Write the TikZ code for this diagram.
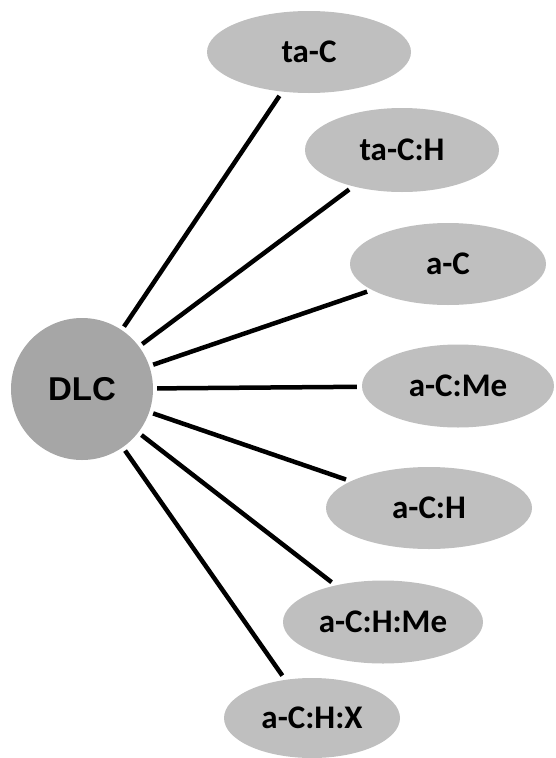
\documentclass[tikz,border=0pt]{standalone}
\usepackage{fontspec}
\setmainfont{Liberation Sans}
\newfontfamily\leaffont{Carlito}
\usetikzlibrary{shapes.geometric}
\definecolor{hubgray}{HTML}{A6A6A6}
\definecolor{leafgray}{HTML}{BFBFBF}
\begin{document}
\begin{tikzpicture}[x=1pt,y=-1pt,
  hub/.style={circle, fill=hubgray, inner sep=0pt, minimum size=142pt,
    font=\fontsize{33}{40}\selectfont\bfseries},
  leaf/.style={ellipse, fill=leafgray, inner sep=0pt,
    font=\leaffont\fontsize{33}{40}\selectfont\bfseries},
  link/.style={line width=4.5pt, shorten <=4pt, shorten >=5pt}]
\useasboundingbox (0,0) rectangle (555,758);
\node[hub] (dlc) at (82,389) {DLC};
\node[leaf, minimum width=204pt, minimum height=82pt] (tac) at (309,52) {ta-C};
\node[leaf, minimum width=194pt, minimum height=84pt] (tach) at (402,150) {ta-C:H};
\node[leaf, minimum width=196pt, minimum height=82pt] (ac) at (448,264) {a-C};
\node[leaf, minimum width=192pt, minimum height=83pt] (acme) at (458,386) {a-C:Me};
\node[leaf, minimum width=206pt, minimum height=82pt] (ach) at (429,508) {a-C:H};
\node[leaf, minimum width=200pt, minimum height=83pt] (achme) at (383,622) {a-C:H:Me};
\node[leaf, minimum width=176pt, minimum height=80pt] (achx) at (312,718) {a-C:H:X};
\foreach \t in {tac,tach,ac,acme,ach,achme,achx}
  \draw[link] (dlc) -- (\t);
\end{tikzpicture}
\end{document}
